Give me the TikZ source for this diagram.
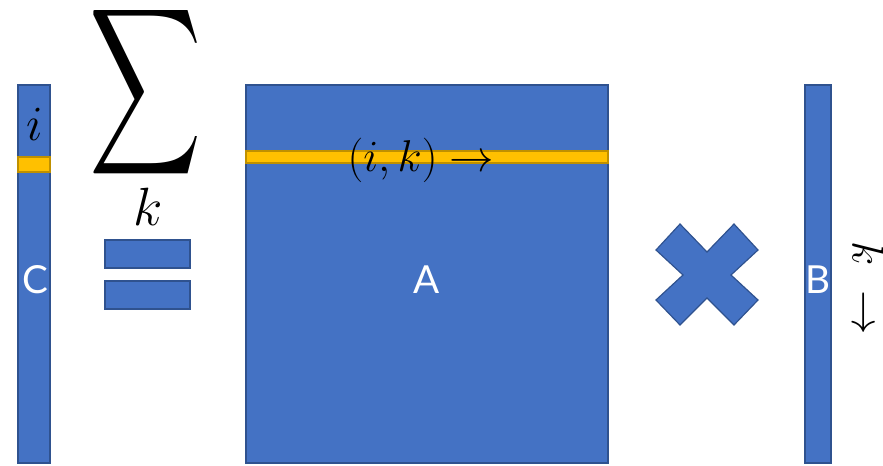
\RequirePackage{fix-cm}
\documentclass[tikz,border=0pt]{standalone}
\usepackage{fontspec}
\setsansfont{Lato}
\usepackage{graphicx}
\definecolor{mblue}{HTML}{4472C4}
\definecolor{mborder}{HTML}{2F528F}
\definecolor{myellow}{HTML}{FFC000}
\definecolor{yborder}{HTML}{BF9000}
\tikzset{
  bluebox/.style={fill=mblue, draw=mborder, line width=1pt},
  yellowbox/.style={fill=myellow, draw=yborder, line width=1pt},
  whitelabel/.style={text=white, font=\sffamily\fontsize{33}{33}\selectfont, inner sep=0pt},
  mathlabel/.style={text=black, font=\fontsize{38}{38}\selectfont, inner sep=0pt}
}
\begin{document}
\begin{tikzpicture}[x=0.03cm, y=-0.03cm]
\useasboundingbox (0,0) rectangle (883,465);
% C vector
\path[bluebox] (18,85) rectangle (50,463);
\path[yellowbox] (18,157) rectangle (50,172);
\node[mathlabel, font=\fontsize{42}{42}\selectfont] (ilab) at (35,124) {$i$};
\node[whitelabel] (C) at (35,280) {C};
% sum
\node[inner sep=0pt] (sum) at (146,92) {\resizebox*{3.37cm}{5.6cm}{$\displaystyle\sum$}};
\node[mathlabel, font=\fontsize{46}{46}\selectfont] (klab) at (148,207) {$k$};
% equals
\path[bluebox] (105,240) rectangle (190,268);
\path[bluebox] (105,281) rectangle (190,309);
% A matrix
\path[bluebox] (246,85) rectangle (608,463);
\path[yellowbox] (246,151) rectangle (608,163);
\node[mathlabel] (iklab) at (421,160) {$(i,k)\rightarrow$};
\node[whitelabel] (A) at (427,280) {A};
% times cross
\path[bluebox, line join=miter] (680,224) -- (707,252) -- (734,224) -- (758,250) -- (731,275) -- (758,300) -- (734,325) -- (707,298) -- (680,325) -- (656,300) -- (683,275) -- (656,250) -- cycle;
% B vector
\path[bluebox] (805,85) rectangle (831,463);
\node[whitelabel] (B) at (818,280) {B};
\node[mathlabel, rotate=-90] (kdown) at (868,288) {$k\;\rightarrow$};
\end{tikzpicture}
\end{document}
